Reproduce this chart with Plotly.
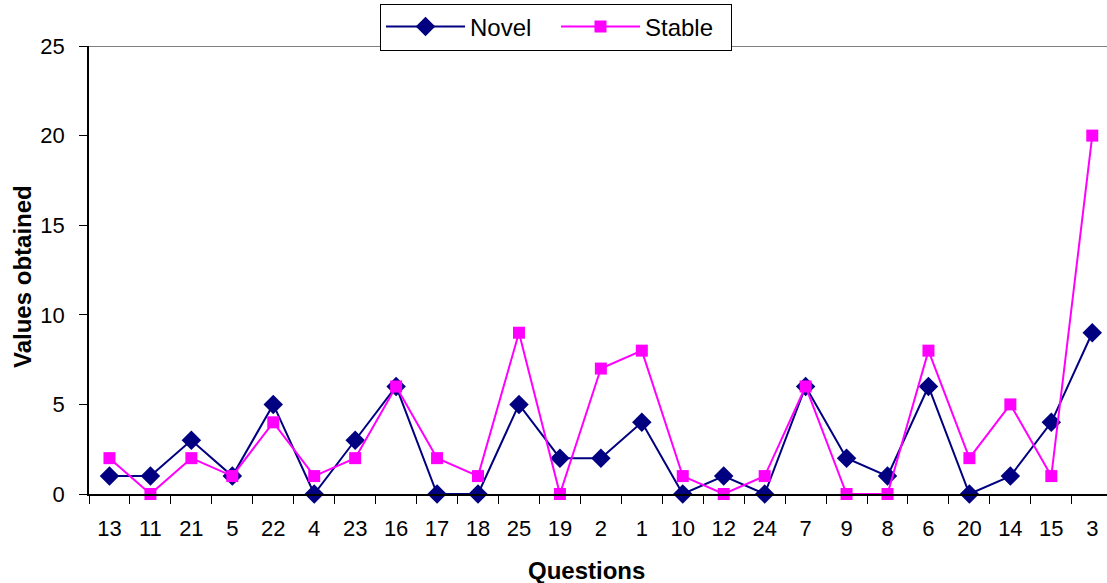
import plotly.graph_objects as go

# Question numbers in the order they appear on the x axis
questions = ["13", "11", "21", "5", "22", "4", "23", "16", "17", "18", "25", "19",
             "2", "1", "10", "12", "24", "7", "9", "8", "6", "20", "14", "15", "3"]

novel = [1, 1, 3, 1, 5, 0, 3, 6, 0, 0, 5, 2, 2, 4, 0, 1, 0, 6, 2, 1, 6, 0, 1, 4, 9]
stable = [2, 0, 2, 1, 4, 1, 2, 6, 2, 1, 9, 0, 7, 8, 1, 0, 1, 6, 0, 0, 8, 2, 5, 1, 20]

y_ticks = [0, 5, 10, 15, 20, 25]

FONT = "Liberation Sans, Arial, sans-serif"

fig = go.Figure()
fig.add_trace(go.Scatter(
    x=questions, y=novel, name="Novel", mode="lines+markers",
    line=dict(color="#000080", width=2),
    marker=dict(symbol="diamond", size=15, color="#000080"),
    cliponaxis=False,
))
fig.add_trace(go.Scatter(
    x=questions, y=stable, name="Stable", mode="lines+markers",
    line=dict(color="#FF00FF", width=2),
    marker=dict(symbol="square", size=12, color="#FF00FF"),
    cliponaxis=False,
))

fig.update_layout(
    width=1107, height=583,
    margin=dict(l=89, r=0, t=46, b=89),
    paper_bgcolor="white", plot_bgcolor="white",
    font=dict(family=FONT, size=22, color="black"),
    showlegend=True,
    legend=dict(
        orientation="h",
        x=(556 - 89) / 1018, xanchor="center",
        y=(494 - 27) / 448, yanchor="middle",
        bgcolor="white", bordercolor="black", borderwidth=1,
        font=dict(size=24, family=FONT, color="black"),
        itemwidth=79,
        entrywidth=81, entrywidthmode="pixels",
    ),
    xaxis=dict(
        type="category",
        range=[-0.5, 24.36],
        showline=True, linecolor="black", linewidth=1.5,
        ticks="outside", tickson="boundaries", ticklen=8, tickcolor="black",
        tickwidth=1,
        showgrid=False, zeroline=False,
        tickfont=dict(size=22, family=FONT, color="black"),
        ticklabelstandoff=14,
    ),
    yaxis=dict(
        range=[0, 25],
        tickvals=y_ticks,
        showline=True, linecolor="black", linewidth=1.5,
        ticks="outside", ticklen=8, tickcolor="black", tickwidth=1,
        showgrid=False, zeroline=False,
        tickfont=dict(size=22, family=FONT, color="black"),
        ticklabelstandoff=10,
    ),
    shapes=[dict(
        type="line", xref="paper", yref="y", x0=0, x1=1, y0=25, y1=25,
        line=dict(color="#808080", width=2), layer="below",
    )],
    annotations=[
        dict(text="<b>Questions</b>", xref="paper", yref="paper",
             x=(586 - 89) / 1018, y=-(570 - 494) / 448,
             xanchor="center", yanchor="middle", showarrow=False,
             font=dict(size=24, family=FONT, color="black")),
        dict(text="<b>Values obtained</b>", xref="paper", yref="paper",
             x=-(89 - 22) / 1018, y=(494 - 277) / 448, textangle=-90,
             xanchor="center", yanchor="middle", showarrow=False,
             font=dict(size=24, family=FONT, color="black")),
    ],
)

fig.write_html("out.html")
